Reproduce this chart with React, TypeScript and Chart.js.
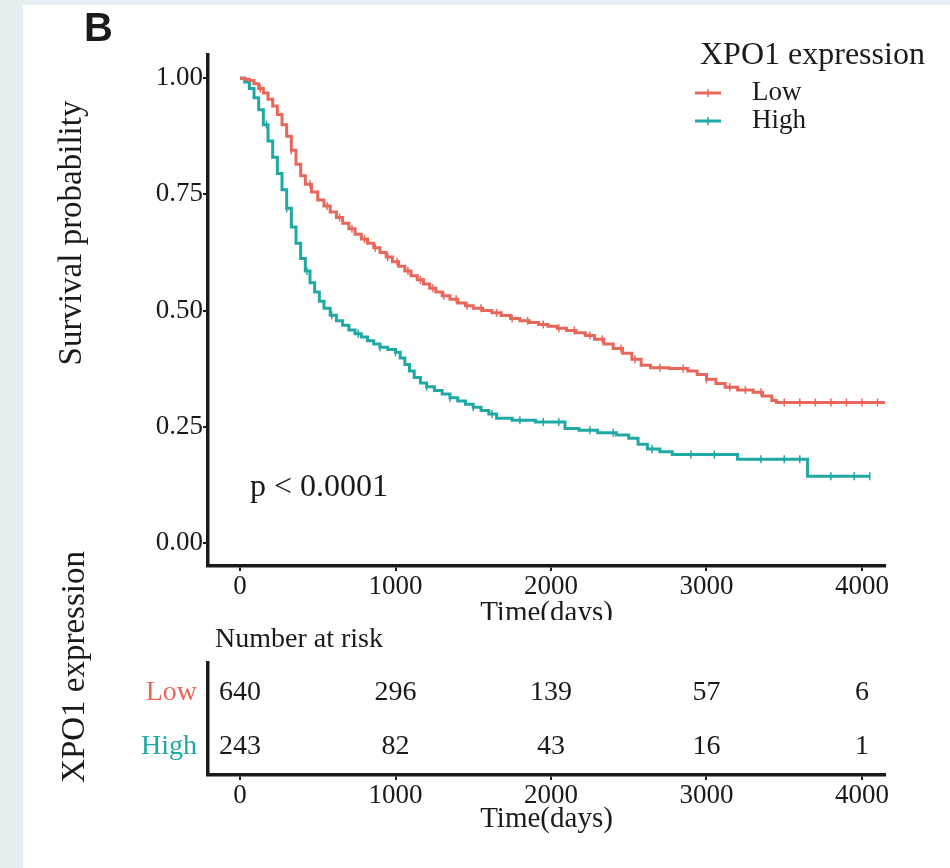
import React, { useEffect, useRef } from "react";
import { Chart, registerables } from "chart.js";

Chart.register(...registerables);

const RED = "#E8675A";
const TEAL = "#1FA9A5";
const INK = "#1a1a1a";
const SERIF = "'Liberation Serif', 'Times New Roman', serif";
const SANS = "'Liberation Sans', Arial, sans-serif";

// Kaplan–Meier curve for the "Low" group (time in days, survival probability)
const lowTimes = [0, 30, 60, 90, 120, 150, 180, 210, 240, 270, 300, 330, 360, 390, 420, 460, 500, 540, 580, 620, 660, 700, 740, 780, 820, 860, 900, 940, 980, 1020, 1060, 1100, 1140, 1180, 1220, 1260, 1300, 1350, 1400, 1450, 1500, 1560, 1620, 1680, 1740, 1800, 1860, 1920, 1980, 2040, 2100, 2160, 2220, 2280, 2340, 2400, 2460, 2520, 2580, 2640, 2760, 2880, 2940, 3000, 3060, 3120, 3200, 3300, 3360, 3420, 3450, 4150];
const lowSurv = [1.0, 0.998, 0.995, 0.988, 0.978, 0.968, 0.955, 0.94, 0.922, 0.9, 0.875, 0.845, 0.815, 0.79, 0.772, 0.755, 0.738, 0.725, 0.712, 0.7, 0.688, 0.676, 0.664, 0.654, 0.645, 0.635, 0.625, 0.615, 0.605, 0.595, 0.585, 0.575, 0.566, 0.557, 0.548, 0.54, 0.532, 0.524, 0.516, 0.51, 0.505, 0.5, 0.495, 0.489, 0.483, 0.478, 0.474, 0.47, 0.466, 0.462, 0.457, 0.452, 0.446, 0.438, 0.428, 0.418, 0.408, 0.395, 0.382, 0.377, 0.375, 0.37, 0.362, 0.352, 0.343, 0.335, 0.329, 0.324, 0.316, 0.306, 0.302, 0.302];

// Kaplan–Meier curve for the "High" group
const highTimes = [0, 30, 60, 90, 120, 150, 180, 210, 240, 270, 300, 330, 360, 390, 420, 450, 480, 510, 540, 580, 620, 660, 700, 740, 780, 820, 860, 900, 950, 1000, 1030, 1060, 1090, 1120, 1160, 1200, 1250, 1300, 1350, 1400, 1450, 1500, 1550, 1600, 1650, 1750, 1900, 2090, 2180, 2300, 2420, 2500, 2560, 2620, 2700, 2780, 3200, 3650, 4050];
const highSurv = [1.0, 0.992, 0.978, 0.958, 0.932, 0.9, 0.865, 0.83, 0.795, 0.76, 0.72, 0.68, 0.645, 0.612, 0.585, 0.56, 0.54, 0.52, 0.505, 0.49, 0.478, 0.468, 0.458, 0.45, 0.443, 0.435, 0.428, 0.421, 0.416, 0.41, 0.398, 0.384, 0.37, 0.356, 0.344, 0.336, 0.328, 0.32, 0.312, 0.305, 0.298, 0.292, 0.285, 0.277, 0.268, 0.264, 0.26, 0.246, 0.242, 0.237, 0.232, 0.225, 0.212, 0.202, 0.196, 0.19, 0.18, 0.143, 0.143];

// censoring times (tick marks)
const lowCensor = [130, 330, 450, 560, 640, 720, 800, 870, 950, 1010, 1080, 1160, 1240, 1310, 1390, 1460, 1550, 1650, 1750, 1850, 1950, 2050, 2150, 2250, 2330, 2450, 2540, 2700, 2850, 3000, 3150, 3250, 3350, 3500, 3600, 3700, 3800, 3900, 4000, 4100];
const highCensor = [170, 300, 430, 590, 760, 900, 1000, 1200, 1350, 1500, 1620, 1800, 1950, 2050, 2250, 2400, 2650, 2900, 3050, 3350, 3500, 3600, 3800, 3950, 4050];

const yTicks = [0, 0.25, 0.5, 0.75, 1];
const xTicks = [0, 1000, 2000, 3000, 4000];

// number at risk table
const riskTimes = [0, 1000, 2000, 3000, 4000];
const riskLow = [640, 296, 139, 57, 6];
const riskHigh = [243, 82, 43, 16, 1];
const groups = ["Low", "High"];
const groupColors = [RED, TEAL];

const legendTitle = "XPO1 expression";
const pValueText = "p < 0.0001";

function survAt(times: number[], surv: number[], t: number) {
  let s = surv[0];
  for (let i = 0; i < times.length; i++) if (times[i] <= t) s = surv[i];
  return s;
}

const mainAnnotations = {
  id: "mainAnnotations",
  afterDraw(chart: any) {
    const ctx = chart.ctx;
    ctx.save();
    ctx.fillStyle = INK;
    ctx.textBaseline = "middle";
    ctx.font = `bold 40px ${SANS}`;
    ctx.textAlign = "left";
    ctx.fillText("B", 84, 30);
    ctx.save();
    ctx.translate(72, 233);
    ctx.rotate(-Math.PI / 2);
    ctx.textAlign = "center";
    ctx.font = `33px ${SERIF}`;
    ctx.fillText("Survival probability", 0, 0);
    ctx.restore();
    ctx.font = `32px ${SERIF}`;
    ctx.textAlign = "left";
    ctx.fillText(pValueText, 250, 488);
    ctx.font = `32px ${SERIF}`;
    ctx.fillText(legendTitle, 700, 56);
    ctx.font = `27px ${SERIF}`;
    const ys = [93, 121];
    groups.forEach((g, i) => {
      ctx.strokeStyle = groupColors[i];
      ctx.lineWidth = 3;
      ctx.beginPath();
      ctx.moveTo(695, ys[i]);
      ctx.lineTo(721, ys[i]);
      ctx.stroke();
      ctx.lineWidth = 1.5;
      ctx.beginPath();
      ctx.moveTo(708, ys[i] - 4);
      ctx.lineTo(708, ys[i] + 4);
      ctx.stroke();
      ctx.fillStyle = INK;
      ctx.fillText(g, 752, ys[i]);
    });
    ctx.restore();
  },
};

const riskAnnotations = {
  id: "riskAnnotations",
  afterDatasetsDraw(chart: any) {
    const ctx = chart.ctx;
    ctx.save();
    ctx.fillStyle = INK;
    ctx.textBaseline = "middle";
    ctx.font = `28px ${SERIF}`;
    ctx.textAlign = "left";
    ctx.fillText("Number at risk", 215, 100);
    ctx.save();
    ctx.translate(75, 127);
    ctx.rotate(-Math.PI / 2);
    ctx.textAlign = "center";
    ctx.font = `33px ${SERIF}`;
    ctx.fillText(legendTitle, 0, 0);
    ctx.restore();
    ctx.font = `28px ${SERIF}`;
    ctx.textAlign = "center";
    chart.data.datasets.forEach((ds: any, i: number) => {
      const meta = chart.getDatasetMeta(i);
      meta.data.forEach((el: any, j: number) => {
        ctx.fillText(String(ds.counts[j]), el.x, el.y);
      });
    });
    ctx.restore();
  },
};

export default function App() {
  const mainRef = useRef<HTMLCanvasElement>(null);
  const riskRef = useRef<HTMLCanvasElement>(null);

  useEffect(() => {
    document.body.style.margin = "0";
    const tickGrid = {
      drawOnChartArea: false,
      drawTicks: true,
      tickLength: 5,
      color: INK,
      lineWidth: 2,
    };
    const border = { display: true, color: INK, width: 3.5 };

    const main = new Chart(mainRef.current!, {
      type: "line",
      data: {
        datasets: [
          {
            label: "Low",
            data: lowTimes.map((t, i) => ({ x: t, y: lowSurv[i] })),
            borderColor: RED,
            borderWidth: 3,
            pointRadius: 0,
            stepped: "before",
            fill: false,
          },
          {
            label: "High",
            data: highTimes.map((t, i) => ({ x: t, y: highSurv[i] })),
            borderColor: TEAL,
            borderWidth: 3,
            pointRadius: 0,
            stepped: "before",
            fill: false,
          },
          {
            type: "scatter",
            label: "Low censored",
            data: lowCensor.map((t) => ({ x: t, y: survAt(lowTimes, lowSurv, t) })),
            borderColor: RED,
            backgroundColor: RED,
            pointStyle: "line",
            rotation: 90,
            pointRadius: 4,
            borderWidth: 1.5,
            showLine: false,
          },
          {
            type: "scatter",
            label: "High censored",
            data: highCensor.map((t) => ({ x: t, y: survAt(highTimes, highSurv, t) })),
            borderColor: TEAL,
            backgroundColor: TEAL,
            pointStyle: "line",
            rotation: 90,
            pointRadius: 4,
            borderWidth: 1.5,
            showLine: false,
          },
        ] as any,
      },
      options: {
        responsive: false,
        animation: false,
        events: [],
        layout: { padding: { left: 0, top: 55, right: 65, bottom: 0 } },
        plugins: { legend: { display: false }, tooltip: { enabled: false } },
        scales: {
          x: {
            type: "linear",
            min: -206,
            max: 4148,
            afterBuildTicks: (s: any) => {
              s.ticks = xTicks.map((v) => ({ value: v }));
            },
            afterFit: (s: any) => {
              s.height = 54;
            },
            grid: tickGrid,
            border,
            ticks: {
              font: { family: SERIF, size: 27 },
              color: INK,
              padding: 0,
              maxRotation: 0,
              autoSkip: false,
              callback: (v: any) => String(v),
            },
            title: {
              display: true,
              text: "Time(days)",
              font: { family: SERIF, size: 29 },
              color: INK,
              padding: { top: 0, bottom: -11 },
            },
          },
          y: {
            type: "linear",
            min: -0.05,
            max: 1.05,
            afterBuildTicks: (s: any) => {
              s.ticks = yTicks.map((v) => ({ value: v }));
            },
            afterFit: (s: any) => {
              s.width = 208;
            },
            grid: tickGrid,
            border,
            ticks: {
              font: { family: SERIF, size: 27 },
              color: INK,
              padding: 0,
              callback: (v: any) => Number(v).toFixed(2),
            },
          },
        },
      } as any,
      plugins: [mainAnnotations],
    });

    const risk = new Chart(riskRef.current!, {
      type: "scatter",
      data: {
        datasets: [
          {
            label: "Low",
            counts: riskLow,
            data: riskTimes.map((t) => ({ x: t, y: 1 })),
            pointRadius: 0,
          },
          {
            label: "High",
            counts: riskHigh,
            data: riskTimes.map((t) => ({ x: t, y: 2 })),
            pointRadius: 0,
          },
        ] as any,
      },
      options: {
        responsive: false,
        animation: false,
        events: [],
        layout: { padding: { left: 0, top: 123, right: 65, bottom: 0 } },
        plugins: { legend: { display: false }, tooltip: { enabled: false } },
        scales: {
          x: {
            type: "linear",
            min: -206,
            max: 4148,
            afterBuildTicks: (s: any) => {
              s.ticks = riskTimes.map((v) => ({ value: v }));
            },
            afterFit: (s: any) => {
              s.height = 93;
            },
            grid: tickGrid,
            border,
            ticks: {
              font: { family: SERIF, size: 27 },
              color: INK,
              padding: 0,
              maxRotation: 0,
              autoSkip: false,
              callback: (v: any) => String(v),
            },
            title: {
              display: true,
              text: "Time(days)",
              font: { family: SERIF, size: 29 },
              color: INK,
              padding: { top: 0, bottom: 31 },
            },
          },
          y: {
            type: "linear",
            reverse: true,
            min: 0.45,
            max: 2.52,
            afterBuildTicks: (s: any) => {
              s.ticks = [1, 2].map((v) => ({ value: v }));
            },
            afterFit: (s: any) => {
              s.width = 208;
            },
            grid: { display: false },
            border,
            ticks: {
              font: { family: SERIF, size: 28 },
              color: (c: any) => groupColors[Math.round(c.tick.value) - 1],
              padding: 3,
              callback: (v: any) => groups[Math.round(v) - 1],
            },
          },
        },
      } as any,
      plugins: [riskAnnotations],
    });

    return () => {
      main.destroy();
      risk.destroy();
    };
  }, []);

  return (
    <div style={{ position: "relative", width: 950, height: 868, background: "#e6eef1", overflow: "hidden" }}>
      <div style={{ position: "absolute", left: 23, top: 5, right: 0, bottom: 0, background: "#ffffff" }} />
      <canvas ref={mainRef} width={950} height={620} style={{ position: "absolute", left: 0, top: 0, width: 950, height: 620 }} />
      <canvas ref={riskRef} width={950} height={328} style={{ position: "absolute", left: 0, top: 540, width: 950, height: 328 }} />
    </div>
  );
}
